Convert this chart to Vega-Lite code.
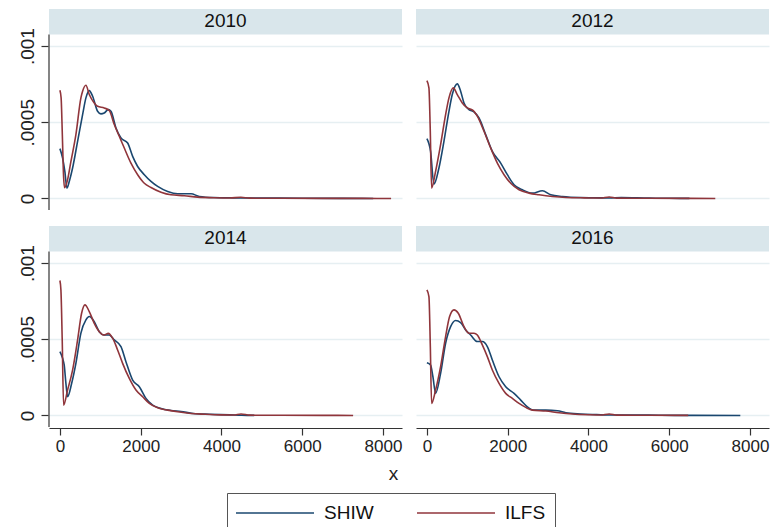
{
  "$schema": "https://vega.github.io/schema/vega-lite/v6.json",
  "padding": {"left": 17, "top": 8, "right": 5, "bottom": 0},
  "autosize": {"type": "pad"},
  "background": "white",
  "config": {
    "font": "Liberation Sans",
    "view": {"stroke": null},
    "header": {"labels": false, "labelExpr": "''", "labelFontSize": 1, "labelPadding": 0, "title": null},
    "axis": {"domainColor": "#333", "domainWidth": 1.2, "tickColor": "#333", "tickWidth": 1.2, "tickSize": 7, "labelColor": "#222", "labelFont": "Liberation Sans", "gridColor": "#e6eff2", "gridWidth": 1.3}
  },
  "title": {"text": "x", "orient": "bottom", "offset": -68, "fontSize": 19, "fontWeight": "normal", "color": "#222", "anchor": "middle", "font": "Liberation Sans"},
  "data": {"values": [
    {"year":"2010","src":"SHIW","x":0,"y":0.000327},{"year":"2010","src":"SHIW","x":67,"y":0.000265},{"year":"2010","src":"SHIW","x":124,"y":0.000175},{"year":"2010","src":"SHIW","x":173,"y":0.000068},{"year":"2010","src":"SHIW","x":240,"y":0.00012},{"year":"2010","src":"SHIW","x":314,"y":0.0002},{"year":"2010","src":"SHIW","x":438,"y":0.000375},{"year":"2010","src":"SHIW","x":562,"y":0.00055},{"year":"2010","src":"SHIW","x":644,"y":0.00066},{"year":"2010","src":"SHIW","x":727,"y":0.000708},{"year":"2010","src":"SHIW","x":810,"y":0.000671},{"year":"2010","src":"SHIW","x":933,"y":0.000572},{"year":"2010","src":"SHIW","x":1016,"y":0.000555},{"year":"2010","src":"SHIW","x":1098,"y":0.000561},{"year":"2010","src":"SHIW","x":1198,"y":0.000583},{"year":"2010","src":"SHIW","x":1264,"y":0.000572},{"year":"2010","src":"SHIW","x":1388,"y":0.000463},{"year":"2010","src":"SHIW","x":1512,"y":0.000397},{"year":"2010","src":"SHIW","x":1677,"y":0.000364},{"year":"2010","src":"SHIW","x":1801,"y":0.000276},{"year":"2010","src":"SHIW","x":1925,"y":0.00021},{"year":"2010","src":"SHIW","x":2090,"y":0.000156},{"year":"2010","src":"SHIW","x":2255,"y":0.000112},{"year":"2010","src":"SHIW","x":2420,"y":0.000079},{"year":"2010","src":"SHIW","x":2668,"y":0.000046},{"year":"2010","src":"SHIW","x":2916,"y":0.000031},{"year":"2010","src":"SHIW","x":3246,"y":0.000031},{"year":"2010","src":"SHIW","x":3452,"y":0.000013},{"year":"2010","src":"SHIW","x":3800,"y":0.000006},{"year":"2010","src":"SHIW","x":4300,"y":0.000004},{"year":"2010","src":"SHIW","x":5000,"y":0.000003},{"year":"2010","src":"SHIW","x":6000,"y":0.000001},{"year":"2010","src":"SHIW","x":7000,"y":0.0000005},{"year":"2010","src":"SHIW","x":7756,"y":0.0000002},
    {"year":"2010","src":"ILFS","x":0,"y":0.00071},{"year":"2010","src":"ILFS","x":30,"y":0.00066},{"year":"2010","src":"ILFS","x":60,"y":0.00042},{"year":"2010","src":"ILFS","x":90,"y":0.00015},{"year":"2010","src":"ILFS","x":115,"y":0.00007},{"year":"2010","src":"ILFS","x":190,"y":0.000123},{"year":"2010","src":"ILFS","x":273,"y":0.000243},{"year":"2010","src":"ILFS","x":396,"y":0.000419},{"year":"2010","src":"ILFS","x":520,"y":0.00066},{"year":"2010","src":"ILFS","x":562,"y":0.000704},{"year":"2010","src":"ILFS","x":644,"y":0.000743},{"year":"2010","src":"ILFS","x":727,"y":0.000682},{"year":"2010","src":"ILFS","x":850,"y":0.000627},{"year":"2010","src":"ILFS","x":933,"y":0.000605},{"year":"2010","src":"ILFS","x":1098,"y":0.000594},{"year":"2010","src":"ILFS","x":1222,"y":0.000577},{"year":"2010","src":"ILFS","x":1346,"y":0.000485},{"year":"2010","src":"ILFS","x":1470,"y":0.000408},{"year":"2010","src":"ILFS","x":1594,"y":0.000331},{"year":"2010","src":"ILFS","x":1759,"y":0.000232},{"year":"2010","src":"ILFS","x":1925,"y":0.000156},{"year":"2010","src":"ILFS","x":2090,"y":0.0001},{"year":"2010","src":"ILFS","x":2255,"y":0.000072},{"year":"2010","src":"ILFS","x":2503,"y":0.000041},{"year":"2010","src":"ILFS","x":2750,"y":0.000024},{"year":"2010","src":"ILFS","x":3080,"y":0.000018},{"year":"2010","src":"ILFS","x":3412,"y":0.0000086},{"year":"2010","src":"ILFS","x":3800,"y":0.000005},{"year":"2010","src":"ILFS","x":4200,"y":0.000003},{"year":"2010","src":"ILFS","x":4480,"y":0.000008},{"year":"2010","src":"ILFS","x":4700,"y":0.000002},{"year":"2010","src":"ILFS","x":5500,"y":0.000001},{"year":"2010","src":"ILFS","x":6500,"y":0.0000005},{"year":"2010","src":"ILFS","x":7500,"y":0.0000003},{"year":"2010","src":"ILFS","x":8200,"y":0.0000002},
    {"year":"2012","src":"SHIW","x":0,"y":0.000393},{"year":"2012","src":"SHIW","x":91,"y":0.000309},{"year":"2012","src":"SHIW","x":174,"y":0.000094},{"year":"2012","src":"SHIW","x":298,"y":0.0002},{"year":"2012","src":"SHIW","x":422,"y":0.000375},{"year":"2012","src":"SHIW","x":546,"y":0.000572},{"year":"2012","src":"SHIW","x":628,"y":0.000682},{"year":"2012","src":"SHIW","x":752,"y":0.000752},{"year":"2012","src":"SHIW","x":835,"y":0.000704},{"year":"2012","src":"SHIW","x":918,"y":0.000627},{"year":"2012","src":"SHIW","x":1042,"y":0.000583},{"year":"2012","src":"SHIW","x":1166,"y":0.000568},{"year":"2012","src":"SHIW","x":1290,"y":0.000528},{"year":"2012","src":"SHIW","x":1455,"y":0.000419},{"year":"2012","src":"SHIW","x":1620,"y":0.000309},{"year":"2012","src":"SHIW","x":1827,"y":0.000232},{"year":"2012","src":"SHIW","x":1992,"y":0.000156},{"year":"2012","src":"SHIW","x":2158,"y":0.00009},{"year":"2012","src":"SHIW","x":2364,"y":0.000057},{"year":"2012","src":"SHIW","x":2612,"y":0.000035},{"year":"2012","src":"SHIW","x":2860,"y":0.000051},{"year":"2012","src":"SHIW","x":3067,"y":0.000024},{"year":"2012","src":"SHIW","x":3356,"y":0.000013},{"year":"2012","src":"SHIW","x":3800,"y":0.000006},{"year":"2012","src":"SHIW","x":4300,"y":0.000004},{"year":"2012","src":"SHIW","x":4514,"y":0.000003},{"year":"2012","src":"SHIW","x":4811,"y":0.000006},{"year":"2012","src":"SHIW","x":5500,"y":0.000002},{"year":"2012","src":"SHIW","x":6000,"y":0.000001},{"year":"2012","src":"SHIW","x":6500,"y":0.0000005},
    {"year":"2012","src":"ILFS","x":0,"y":0.000774},{"year":"2012","src":"ILFS","x":50,"y":0.000726},{"year":"2012","src":"ILFS","x":82,"y":0.00046},{"year":"2012","src":"ILFS","x":116,"y":0.000068},{"year":"2012","src":"ILFS","x":215,"y":0.000178},{"year":"2012","src":"ILFS","x":339,"y":0.000353},{"year":"2012","src":"ILFS","x":463,"y":0.00055},{"year":"2012","src":"ILFS","x":546,"y":0.00066},{"year":"2012","src":"ILFS","x":653,"y":0.000726},{"year":"2012","src":"ILFS","x":752,"y":0.000682},{"year":"2012","src":"ILFS","x":876,"y":0.000627},{"year":"2012","src":"ILFS","x":1000,"y":0.000594},{"year":"2012","src":"ILFS","x":1149,"y":0.000577},{"year":"2012","src":"ILFS","x":1248,"y":0.00054},{"year":"2012","src":"ILFS","x":1414,"y":0.000441},{"year":"2012","src":"ILFS","x":1579,"y":0.000331},{"year":"2012","src":"ILFS","x":1744,"y":0.000232},{"year":"2012","src":"ILFS","x":1910,"y":0.000156},{"year":"2012","src":"ILFS","x":2075,"y":0.0001},{"year":"2012","src":"ILFS","x":2282,"y":0.000057},{"year":"2012","src":"ILFS","x":2530,"y":0.000035},{"year":"2012","src":"ILFS","x":2778,"y":0.000024},{"year":"2012","src":"ILFS","x":3108,"y":0.000013},{"year":"2012","src":"ILFS","x":3440,"y":0.0000066},{"year":"2012","src":"ILFS","x":3900,"y":0.000004},{"year":"2012","src":"ILFS","x":4300,"y":0.000003},{"year":"2012","src":"ILFS","x":4514,"y":0.00001},{"year":"2012","src":"ILFS","x":4700,"y":0.000002},{"year":"2012","src":"ILFS","x":5500,"y":0.000001},{"year":"2012","src":"ILFS","x":6500,"y":0.0000005},{"year":"2012","src":"ILFS","x":7140,"y":0.0000002},
    {"year":"2014","src":"SHIW","x":0,"y":0.000419},{"year":"2014","src":"SHIW","x":67,"y":0.000375},{"year":"2014","src":"SHIW","x":107,"y":0.00033},{"year":"2014","src":"SHIW","x":149,"y":0.00021},{"year":"2014","src":"SHIW","x":190,"y":0.000123},{"year":"2014","src":"SHIW","x":290,"y":0.00021},{"year":"2014","src":"SHIW","x":396,"y":0.000342},{"year":"2014","src":"SHIW","x":520,"y":0.00054},{"year":"2014","src":"SHIW","x":644,"y":0.000627},{"year":"2014","src":"SHIW","x":727,"y":0.000649},{"year":"2014","src":"SHIW","x":851,"y":0.000616},{"year":"2014","src":"SHIW","x":975,"y":0.00055},{"year":"2014","src":"SHIW","x":1098,"y":0.000528},{"year":"2014","src":"SHIW","x":1222,"y":0.000528},{"year":"2014","src":"SHIW","x":1346,"y":0.000496},{"year":"2014","src":"SHIW","x":1512,"y":0.000452},{"year":"2014","src":"SHIW","x":1635,"y":0.000353},{"year":"2014","src":"SHIW","x":1801,"y":0.000232},{"year":"2014","src":"SHIW","x":1966,"y":0.000189},{"year":"2014","src":"SHIW","x":2131,"y":0.000112},{"year":"2014","src":"SHIW","x":2297,"y":0.000068},{"year":"2014","src":"SHIW","x":2503,"y":0.000046},{"year":"2014","src":"SHIW","x":2750,"y":0.000033},{"year":"2014","src":"SHIW","x":3000,"y":0.000026},{"year":"2014","src":"SHIW","x":3300,"y":0.000013},{"year":"2014","src":"SHIW","x":3700,"y":0.000008},{"year":"2014","src":"SHIW","x":4200,"y":0.000004},{"year":"2014","src":"SHIW","x":4500,"y":0.000001},{"year":"2014","src":"SHIW","x":4810,"y":0.0000005},
    {"year":"2014","src":"ILFS","x":0,"y":0.000886},{"year":"2014","src":"ILFS","x":25,"y":0.000824},{"year":"2014","src":"ILFS","x":57,"y":0.0005},{"year":"2014","src":"ILFS","x":91,"y":0.000068},{"year":"2014","src":"ILFS","x":190,"y":0.000167},{"year":"2014","src":"ILFS","x":314,"y":0.000298},{"year":"2014","src":"ILFS","x":438,"y":0.000496},{"year":"2014","src":"ILFS","x":537,"y":0.000671},{"year":"2014","src":"ILFS","x":620,"y":0.000726},{"year":"2014","src":"ILFS","x":727,"y":0.000682},{"year":"2014","src":"ILFS","x":851,"y":0.000605},{"year":"2014","src":"ILFS","x":975,"y":0.00055},{"year":"2014","src":"ILFS","x":1098,"y":0.000528},{"year":"2014","src":"ILFS","x":1198,"y":0.000539},{"year":"2014","src":"ILFS","x":1305,"y":0.000507},{"year":"2014","src":"ILFS","x":1429,"y":0.00043},{"year":"2014","src":"ILFS","x":1553,"y":0.000342},{"year":"2014","src":"ILFS","x":1718,"y":0.000243},{"year":"2014","src":"ILFS","x":1883,"y":0.000167},{"year":"2014","src":"ILFS","x":2049,"y":0.000123},{"year":"2014","src":"ILFS","x":2214,"y":0.000079},{"year":"2014","src":"ILFS","x":2420,"y":0.00005},{"year":"2014","src":"ILFS","x":2668,"y":0.000035},{"year":"2014","src":"ILFS","x":2916,"y":0.000024},{"year":"2014","src":"ILFS","x":3246,"y":0.000013},{"year":"2014","src":"ILFS","x":3600,"y":0.000008},{"year":"2014","src":"ILFS","x":4000,"y":0.000004},{"year":"2014","src":"ILFS","x":4300,"y":0.000003},{"year":"2014","src":"ILFS","x":4485,"y":0.00001},{"year":"2014","src":"ILFS","x":4700,"y":0.000002},{"year":"2014","src":"ILFS","x":5500,"y":0.000001},{"year":"2014","src":"ILFS","x":6500,"y":0.0000005},{"year":"2014","src":"ILFS","x":7260,"y":0.0000002},
    {"year":"2016","src":"SHIW","x":0,"y":0.000346},{"year":"2016","src":"SHIW","x":91,"y":0.000331},{"year":"2016","src":"SHIW","x":149,"y":0.000254},{"year":"2016","src":"SHIW","x":215,"y":0.000145},{"year":"2016","src":"SHIW","x":339,"y":0.000276},{"year":"2016","src":"SHIW","x":463,"y":0.000474},{"year":"2016","src":"SHIW","x":587,"y":0.000583},{"year":"2016","src":"SHIW","x":711,"y":0.000623},{"year":"2016","src":"SHIW","x":835,"y":0.00061},{"year":"2016","src":"SHIW","x":959,"y":0.000561},{"year":"2016","src":"SHIW","x":1083,"y":0.000528},{"year":"2016","src":"SHIW","x":1248,"y":0.000485},{"year":"2016","src":"SHIW","x":1372,"y":0.000485},{"year":"2016","src":"SHIW","x":1496,"y":0.000452},{"year":"2016","src":"SHIW","x":1620,"y":0.000364},{"year":"2016","src":"SHIW","x":1786,"y":0.000254},{"year":"2016","src":"SHIW","x":1951,"y":0.000189},{"year":"2016","src":"SHIW","x":2158,"y":0.000145},{"year":"2016","src":"SHIW","x":2323,"y":0.000101},{"year":"2016","src":"SHIW","x":2488,"y":0.000057},{"year":"2016","src":"SHIW","x":2654,"y":0.000035},{"year":"2016","src":"SHIW","x":2943,"y":0.000035},{"year":"2016","src":"SHIW","x":3232,"y":0.000031},{"year":"2016","src":"SHIW","x":3440,"y":0.000018},{"year":"2016","src":"SHIW","x":3800,"y":0.00001},{"year":"2016","src":"SHIW","x":4200,"y":0.000006},{"year":"2016","src":"SHIW","x":4600,"y":0.000003},{"year":"2016","src":"SHIW","x":5100,"y":0.000003},{"year":"2016","src":"SHIW","x":5800,"y":0.000001},{"year":"2016","src":"SHIW","x":6500,"y":0.0000005},{"year":"2016","src":"SHIW","x":7760,"y":0.0000002},
    {"year":"2016","src":"ILFS","x":0,"y":0.000824},{"year":"2016","src":"ILFS","x":50,"y":0.00078},{"year":"2016","src":"ILFS","x":85,"y":0.00045},{"year":"2016","src":"ILFS","x":116,"y":0.000079},{"year":"2016","src":"ILFS","x":215,"y":0.000167},{"year":"2016","src":"ILFS","x":339,"y":0.00032},{"year":"2016","src":"ILFS","x":463,"y":0.000518},{"year":"2016","src":"ILFS","x":562,"y":0.000649},{"year":"2016","src":"ILFS","x":670,"y":0.000693},{"year":"2016","src":"ILFS","x":777,"y":0.000671},{"year":"2016","src":"ILFS","x":918,"y":0.000583},{"year":"2016","src":"ILFS","x":1042,"y":0.00054},{"year":"2016","src":"ILFS","x":1166,"y":0.00054},{"year":"2016","src":"ILFS","x":1248,"y":0.000528},{"year":"2016","src":"ILFS","x":1372,"y":0.000463},{"year":"2016","src":"ILFS","x":1496,"y":0.000386},{"year":"2016","src":"ILFS","x":1620,"y":0.000298},{"year":"2016","src":"ILFS","x":1786,"y":0.00021},{"year":"2016","src":"ILFS","x":1951,"y":0.000145},{"year":"2016","src":"ILFS","x":2116,"y":0.000112},{"year":"2016","src":"ILFS","x":2282,"y":0.000079},{"year":"2016","src":"ILFS","x":2447,"y":0.000053},{"year":"2016","src":"ILFS","x":2612,"y":0.000035},{"year":"2016","src":"ILFS","x":2943,"y":0.000029},{"year":"2016","src":"ILFS","x":3274,"y":0.000018},{"year":"2016","src":"ILFS","x":3600,"y":0.00001},{"year":"2016","src":"ILFS","x":4000,"y":0.000005},{"year":"2016","src":"ILFS","x":4300,"y":0.000003},{"year":"2016","src":"ILFS","x":4514,"y":0.00001},{"year":"2016","src":"ILFS","x":4700,"y":0.000002},{"year":"2016","src":"ILFS","x":5500,"y":0.000001},{"year":"2016","src":"ILFS","x":6470,"y":0.0000003}
  ]},
  "facet": {"field": "year", "type": "nominal", "header": {"labels": false, "labelExpr": "''", "labelFontSize": 1, "labelPadding": 0, "title": null}},
  "columns": 2,
  "spacing": {"column": 14, "row": 14},
  "spec": {
    "width": 353,
    "height": 201,
    "layer": [
      {
        "mark": {"type": "line", "strokeWidth": 1.6, "interpolate": "monotone"},
        "encoding": {
          "x": {"field": "x", "type": "quantitative", "title": null,
                "scale": {"domain": [-270, 8470], "nice": false, "zero": false},
                "axis": {"values": [0, 2000, 4000, 6000, 8000], "format": "d", "grid": false, "labelFontSize": 17, "labelPadding": 3, "title": null}},
          "y": {"field": "y", "type": "quantitative", "title": null,
                "scale": {"domain": [-0.0000757, 0.0012434], "nice": false, "zero": false},
                "axis": {"values": [0, 0.0005, 0.001], "grid": true, "domain": false, "labelFontSize": 19, "labelAngle": -90, "labelAlign": "center", "labelBaseline": "alphabetic", "labelPadding": 8, "title": null,
                         "labelExpr": "datum.value === 0 ? '0' : replace(toString(datum.value), '0.', '.')"}},
          "color": {"field": "src", "type": "nominal",
                    "scale": {"domain": ["SHIW", "ILFS"], "range": ["#1a476f", "#90353b"]},
                    "legend": {"title": null, "orient": "none", "legendX": 178, "legendY": 484, "direction": "horizontal", "columns": 2,
                               "symbolType": "M-3.9,0H3.9", "symbolSize": 400, "symbolStrokeWidth": 1.6, "symbolOffset": 28, "labelFontSize": 19, "labelOffset": 38,
                               "columnPadding": 39, "padding": 9, "strokeColor": "#555", "fillColor": "white", "labelColor": "#111", "labelFont": "Liberation Sans"}}
        }
      },
      {
        "transform": [{"aggregate": [{"op": "count", "as": "n"}], "groupby": ["year"]}],
        "mark": {"type": "rect", "fill": "#d9e6eb"},
        "encoding": {
          "x": {"datum": -270, "type": "quantitative"},
          "x2": {"datum": 8470},
          "y": {"datum": 0.001076, "type": "quantitative"},
          "y2": {"datum": 0.0012434}
        }
      },
      {
        "transform": [{"aggregate": [{"op": "count", "as": "n"}], "groupby": ["year"]}, {"filter": "datum.year === '2010' || datum.year === '2014'"}],
        "mark": {"type": "rule", "color": "#333", "strokeWidth": 1.2},
        "encoding": {
          "x": {"datum": -270, "type": "quantitative"},
          "y": {"datum": -0.0000757, "type": "quantitative"},
          "y2": {"datum": 0.001076}
        }
      },
      {
        "transform": [{"aggregate": [{"op": "count", "as": "n"}], "groupby": ["year"]}],
        "mark": {"type": "text", "fontSize": 19, "color": "#111", "baseline": "middle", "align": "center", "font": "Liberation Sans"},
        "encoding": {
          "x": {"datum": 4100, "type": "quantitative"},
          "y": {"datum": 0.001165, "type": "quantitative"},
          "text": {"field": "year"}
        }
      }
    ]
  }
}
